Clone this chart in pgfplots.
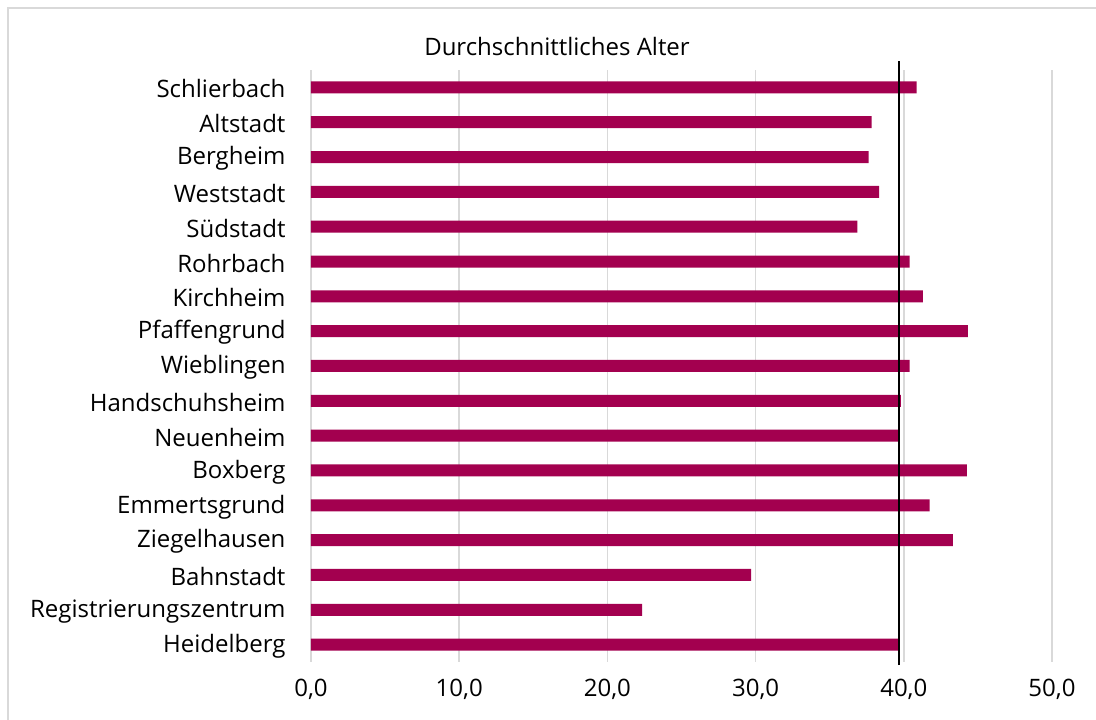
\documentclass[border=0pt]{standalone}
\usepackage{fontspec}
\setmainfont{Open Sans}
\usepackage{pgfplots}
\pgfplotsset{compat=1.18}
\definecolor{barc}{RGB}{163,0,79}
\definecolor{gridc}{RGB}{217,217,217}
\begin{document}
\begin{tikzpicture}[x=1pt,y=1pt]
\useasboundingbox (0,0) rectangle (1096,720);
\draw[gridc, line width=1.5pt] (8,-5) -- (8,712) -- (1110,712);
\node[font=\fontsize{24}{28}\selectfont, text=black] at (557,673) {Durchschnittliches Alter};
\begin{axis}[
  at={(311pt,58pt)}, anchor=south west,
  width=741pt, height=592pt, scale only axis,
  xmin=0, xmax=50, ymin=-0.5, ymax=16.5,
  axis line style={draw=none},
  xmajorgrids, grid style={gridc, line width=1.6pt},
  xtick={0,10,20,30,40,50},
  xticklabels={{0,0},{10,0},{20,0},{30,0},{40,0},{50,0}},
  ytick={0,...,16},
  yticklabels={Heidelberg,Registrierungszentrum,Bahnstadt,Ziegelhausen,Emmertsgrund,Boxberg,Neuenheim,Handschuhsheim,Wieblingen,Pfaffengrund,Kirchheim,Rohrbach,Südstadt,Weststadt,Bergheim,Altstadt,Schlierbach},
  major tick length=0pt,
  tick label style={font=\fontsize{24}{28}\selectfont, text=black},
  xticklabel style={yshift=-14pt},
  yticklabel style={xshift=-22pt, yshift=-1.5pt},
  clip=false,
]
\addplot[xbar, bar width=12pt, draw=none, fill=barc] coordinates {
(39.74,0) (22.34,1) (29.69,2) (43.31,3) (41.74,4) (44.25,5) (39.60,6) (39.80,7) (40.39,8) (44.32,9) (41.29,10) (40.39,11) (36.86,12) (38.34,13) (37.63,14) (37.83,15) (40.86,16)
};
\addplot[black, line width=2.2pt, mark=none] coordinates {(39.65,-0.59) (39.65,16.77)};
\end{axis}
\end{tikzpicture}
\end{document}
